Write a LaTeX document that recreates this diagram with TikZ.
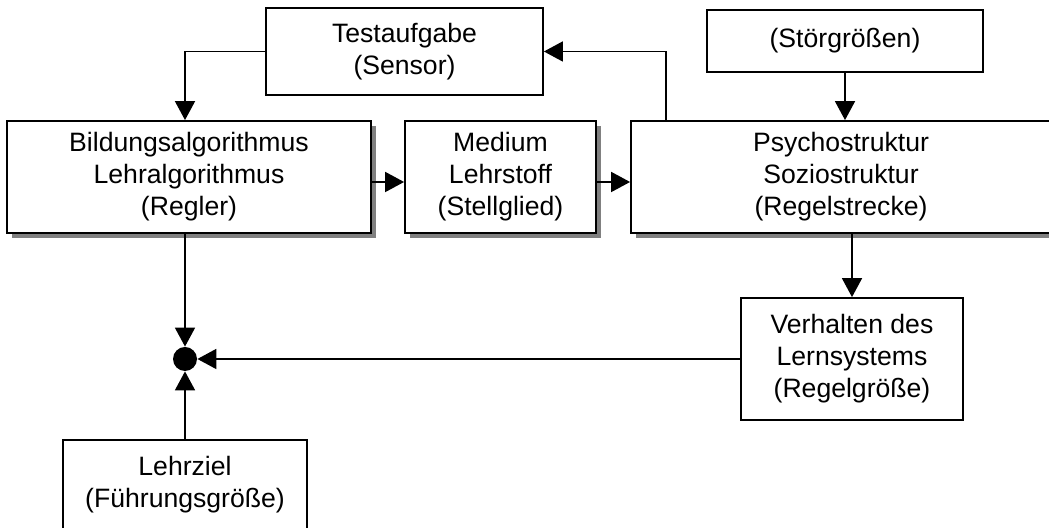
\documentclass[tikz,border=0pt]{standalone}
\usepackage{fontspec}
\setmainfont{Liberation Sans}
\usetikzlibrary{arrows.meta, shadows}

\begin{document}
\begin{tikzpicture}[x=1pt, y=1pt,
  block/.style = {draw, line width=0.9pt, fill=white, align=center, inner sep=0pt,
                  font=\fontsize{13.3}{16}\selectfont},
  shadowed/.style = {drop shadow={shadow xshift=2.5pt, shadow yshift=-2.5pt, fill=black!50, opacity=1}},
  arr/.style = {line width=0.9pt, -{Triangle[length=9.5pt, width=10pt]}}]
\useasboundingbox (0,0) rectangle (524.5,264);

% top row
\node[block, minimum width=138.5pt, minimum height=43.5pt] (test) at (202.25,238.25) {Testaufgabe\\(Sensor)};
\node[block, minimum width=138pt, minimum height=31pt] (stoer) at (422.5,243.5) {(Störgrößen)};

% middle row
\node[block, shadowed, minimum width=182pt, minimum height=56pt] (regler) at (94.5,175.5) {Bildungsalgorithmus\\Lehralgorithmus\\(Regler)};
\node[block, shadowed, minimum width=95.5pt, minimum height=56pt] (medium) at (250.25,175.5) {Medium\\Lehrstoff\\(Stellglied)};
\node[block, shadowed, minimum width=210pt, minimum height=56pt] (psycho) at (420.5,175.5) {Psychostruktur\\Soziostruktur\\(Regelstrecke)};

% bottom
\node[block, minimum width=111pt, minimum height=61pt] (verh) at (426,84.5) {Verhalten des\\Lernsystems\\(Regelgröße)};
\node[circle, fill, inner sep=0pt, minimum size=12pt] (junc) at (92.5,84.5) {};
\node[block, minimum width=122pt, minimum height=45pt] (ziel) at (92.5,21.5) {Lehrziel\\(Führungsgröße)};

% connectors
\draw[arr] (test.west) -| (junc |- regler.north);
\draw[arr] ([xshift=-87.5pt]psycho.north) |- (test.east);
\draw[arr] (stoer.south) -- (stoer.south |- psycho.north);
\draw[arr] ([yshift=-2.5pt]regler.east) -- ([yshift=-2.5pt]medium.west);
\draw[arr] ([yshift=-2.5pt]medium.east) -- ([yshift=-2.5pt]psycho.west);
\draw[arr] (verh.north |- psycho.south) -- (verh.north);
\draw[arr] (junc |- regler.south) -- (junc.north);
\draw[arr] (verh.west) -- (junc.east);
\draw[arr] (ziel.north) -- (junc.south);
\end{tikzpicture}
\end{document}
